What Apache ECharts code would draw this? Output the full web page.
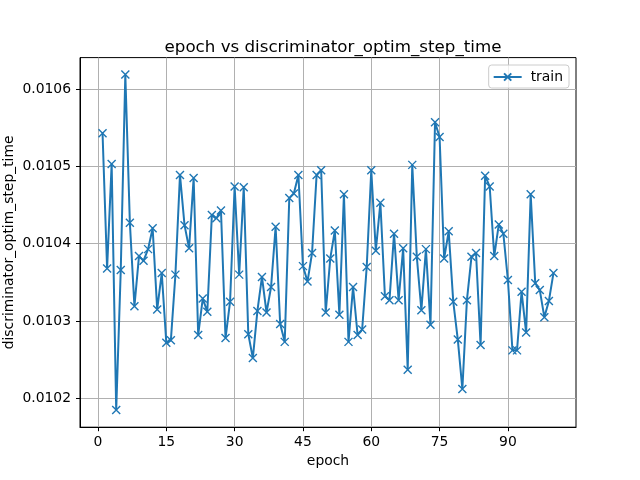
<!DOCTYPE html>
<html>
<head>
<meta charset="utf-8">
<script src="https://cdn.jsdelivr.net/npm/echarts@6/dist/echarts.min.js"></script>
<style>html,body{margin:0;padding:0;background:#fff}#c{width:640px;height:480px}</style>
</head>
<body>
<div id="c"></div>
<script>
const epochs = [1,2,3,4,5,6,7,8,9,10,11,12,13,14,15,16,17,18,19,20,21,22,23,24,25,26,27,28,29,30,31,32,33,34,35,36,37,38,39,40,41,42,43,44,45,46,47,48,49,50,51,52,53,54,55,56,57,58,59,60,61,62,63,64,65,66,67,68,69,70,71,72,73,74,75,76,77,78,79,80,81,82,83,84,85,86,87,88,89,90,91,92,93,94,95,96,97,98,99,100];
const trainValues = [
0.010543,0.010368,0.010503,0.010185,0.010366,0.010619,0.010427,0.010319,0.010384,0.010378,
0.010393,0.010420,0.010315,0.010362,0.010272,0.010275,0.010360,0.010489,0.010424,0.010394,
0.010485,0.010282,0.010329,0.010312,0.010437,0.010433,0.010443,0.010278,0.010325,0.010474,
0.010360,0.010473,0.010283,0.010252,0.010313,0.010357,0.010311,0.010344,0.010422,0.010296,
0.010273,0.010459,0.010465,0.010489,0.010371,0.010351,0.010388,0.010489,0.010495,0.010311,
0.010381,0.010417,0.010308,0.010464,0.010273,0.010344,0.010282,0.010289,0.010370,0.010495,
0.010391,0.010453,0.010332,0.010327,0.010413,0.010327,0.010394,0.010237,0.010502,0.010383,
0.010314,0.010393,0.010295,0.010557,0.010538,0.010381,0.010416,0.010325,0.010276,0.010212,
0.010327,0.010383,0.010388,0.010269,0.010488,0.010474,0.010384,0.010425,0.010413,0.010353,
0.010262,0.010262,0.010338,0.010285,0.010464,0.010349,0.010340,0.010305,0.010326,0.010362
];
const xTicks = [0,15,30,45,60,75,90];
const yTicks = [0.0102,0.0103,0.0104,0.0105,0.0106];

const FONT = 'DejaVu Sans';
const chart = echarts.init(document.getElementById('c'), null, {renderer:'canvas'});
chart.setOption({
  animation:false,
  backgroundColor:'#fff',
  title:{
    text:'epoch vs discriminator_optim_step_time',
    left:328, top:34, textAlign:'center',
    textStyle:{fontFamily:FONT,fontSize:16.7,fontWeight:'normal',color:'#000'}
  },
  legend:{
    data:['train'], right:71, top:65,
    itemWidth:28, itemHeight:9,
    padding:[5,6,4,4],
    borderColor:'#cccccc', borderWidth:1, borderRadius:3, backgroundColor:'rgba(255,255,255,0.8)',
    textStyle:{fontFamily:FONT,fontSize:13.9,color:'#000',padding:[0,0,0,4]}
  },
  grid:{left:80,right:64,top:57.6,bottom:52.8,show:true,borderColor:'#000',borderWidth:1,backgroundColor:'transparent',containLabel:false,outerBoundsMode:'none'},
  xAxis:{
    type:'value', min:-3.95, max:104.95,
    name:'epoch', nameLocation:'middle', nameGap:27, nameMoveOverlap:false,
    nameTextStyle:{fontFamily:FONT,fontSize:13.9,color:'#000'},
    axisLine:{show:true,onZero:false,lineStyle:{color:'#000',width:1}},
    axisTick:{show:true,length:4,lineStyle:{color:'#000'},customValues:xTicks},
    axisLabel:{customValues:xTicks,margin:8,fontFamily:FONT,fontSize:13.9,color:'#000'},
    splitLine:{show:true,lineStyle:{color:'#b0b0b0',width:1}}
  },
  yAxis:{
    type:'value', min:0.0101626, max:0.0106408,
    name:'discriminator_optim_step_time', nameLocation:'middle', nameGap:64, nameRotate:90, nameMoveOverlap:false,
    nameTextStyle:{fontFamily:FONT,fontSize:13.9,color:'#000'},
    axisLine:{show:true,onZero:false,lineStyle:{color:'#000',width:1}},
    axisTick:{show:true,length:4,lineStyle:{color:'#000'},customValues:yTicks},
    axisLabel:{customValues:yTicks,margin:9,fontFamily:FONT,fontSize:13.9,color:'#000',formatter:v=>v.toFixed(4)},
    splitLine:{show:true,lineStyle:{color:'#b0b0b0',width:1}}
  },
  series:[{
    name:'train', type:'line',
    data:epochs.map((e,i)=>[e,trainValues[i]]),
    symbol:'path://M0,0L10,10M10,0L0,10', symbolSize:8,
    itemStyle:{color:'#1f77b4',borderColor:'#1f77b4',borderWidth:1.4},
    lineStyle:{color:'#1f77b4',width:2},
    emphasis:{disabled:true}
  }]
});
</script>
</body>
</html>
